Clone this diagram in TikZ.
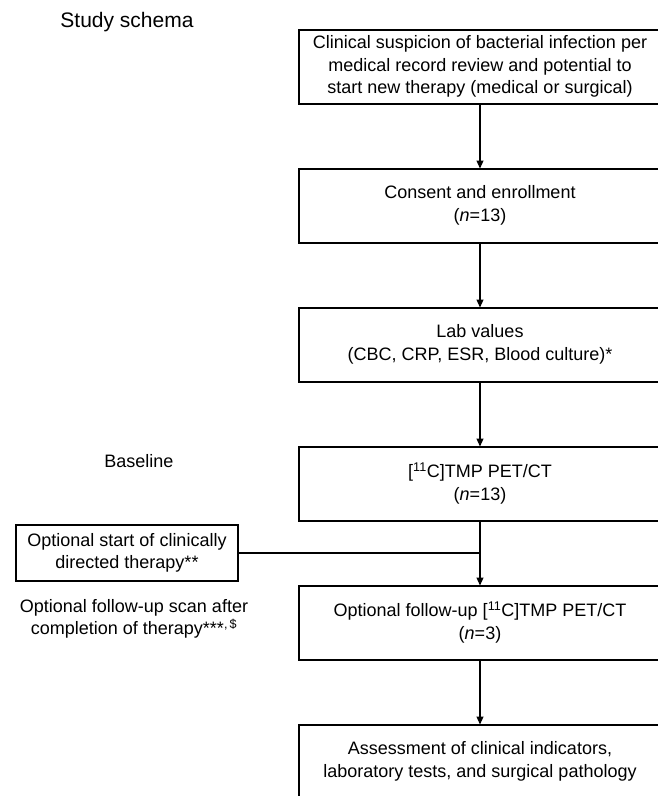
\documentclass[tikz,border=0pt]{standalone}
\usepackage{fontspec}
\setmainfont{Liberation Sans}
\usetikzlibrary{arrows.meta,positioning}
\tikzset{
  flowbox/.style={rectangle,draw=black,line width=2pt,outer sep=0pt,align=center,minimum width=362pt,minimum height=74pt,font=\fontsize{18}{22.5}\selectfont},
  sidebox/.style={flowbox,minimum width=222pt,minimum height=56pt},
  sidetext/.style={align=center,font=\fontsize{18}{22.5}\selectfont},
  arr/.style={-{Triangle[length=8pt,width=7pt]},line width=1.1pt},
  joinline/.style={line width=2pt}
}
\begin{document}
\begin{tikzpicture}[x=1pt,y=1pt,node distance=65pt]
  \useasboundingbox (0,0) rectangle (657,-796);
  %% Main column
  \node[flowbox] (suspect) at (480,-66.5) {Clinical suspicion of bacterial infection per\\medical record review and potential to\\start new therapy (medical or surgical)};
  \node[flowbox,below=of suspect] (consent) {Consent and enrollment\\(\textit{n}=13)};
  \node[flowbox,below=of consent] (labs) {Lab values\\(CBC, CRP, ESR, Blood culture)*};
  \node[flowbox,below=of labs] (pet) {[\textsuperscript{11}C]TMP PET/CT\\(\textit{n}=13)};
  \node[flowbox,below=of pet] (followup) {Optional follow-up [\textsuperscript{11}C]TMP PET/CT\\(\textit{n}=3)};
  \node[flowbox,below=of followup] (assess) {Assessment of clinical indicators,\\laboratory tests, and surgical pathology};

  %% Left side
  \node[sidetext,font=\fontsize{21}{25}\selectfont] (title) at (127,-22) {Study schema};
  \node[sidetext] (baseline) at (139,-461) {Baseline};
  \node[sidebox] (therapy) at (127,-553) {Optional start of clinically\\directed therapy**};
  \node[sidetext] (scan) at (134,-619) {Optional follow-up scan after\\completion of therapy***\textsuperscript{,\,\$}};

  %% Arrows
  \draw[arr] (suspect.south)--(consent.north);
  \draw[arr] (consent.south)--(labs.north);
  \draw[arr] (labs.south)--(pet.north);
  \draw[arr] (pet.south)--(followup.north);
  \draw[arr] (followup.south)--(assess.north);
  \draw[joinline] (therapy.east)--(therapy.east -| pet.south);
\end{tikzpicture}
\end{document}
